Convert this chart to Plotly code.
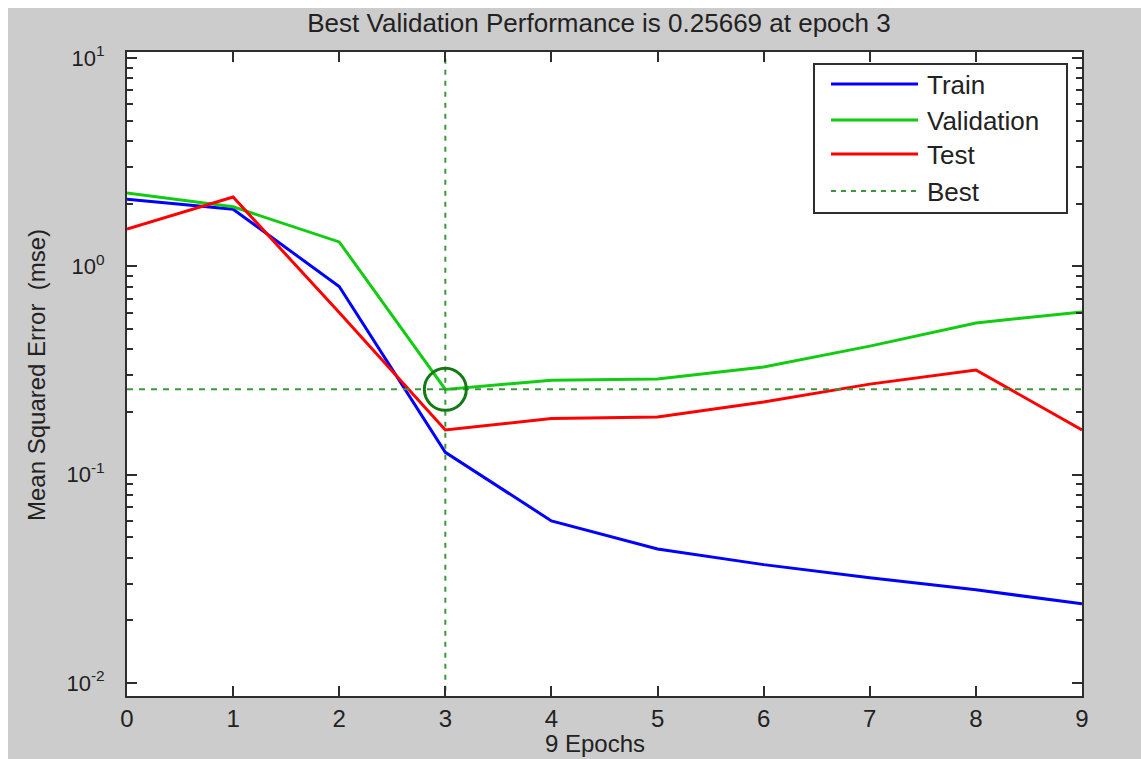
import plotly.graph_objects as go

# ---- data ----
epochs = [0, 1, 2, 3, 4, 5, 6, 7, 8, 9]
train = [2.10, 1.88, 0.80, 0.128, 0.060, 0.044, 0.037, 0.032, 0.028, 0.024]
validation = [2.25, 1.93, 1.31, 0.25669, 0.284, 0.288, 0.329, 0.414, 0.535, 0.604]
test = [1.51, 2.15, 0.60, 0.164, 0.186, 0.189, 0.223, 0.272, 0.318, 0.164]
best_epoch = 3
best_value = 0.25669
series_names = ["Train", "Validation", "Test", "Best"]
y_tickvals = [0.01, 0.1, 1, 10]
y_ticktext = ["10<sup>-2</sup>", "10<sup>-1</sup>", "10<sup>0</sup>", "10<sup>1</sup>"]
title_text = "Best Validation Performance is 0.25669 at epoch 3"
x_title = "9 Epochs"
y_title = "Mean Squared Error  (mse)"

# ---- style ----
C_TRAIN = "#0000ff"
C_VAL = "#11cc11"
C_TEST = "#ff0000"
C_BEST = "#3c963c"
C_CIRCLE = "#137a13"
C_AXIS = "#2e2e2e"
C_GRAY = "#cccccc"
TXT = "#222222"
FONT = "Liberation Sans, Arial, sans-serif"

OFF = 8  # page body margin (top/left)
W, H = 1141 - OFF, 759 - OFF
L, T = 127 - OFF, 52 - OFF
R = W - (1082 - OFF)
B = H - (696 - OFF)
pw, ph = W - L - R, H - T - B


def px_x(px):
    return (px - OFF - L) / pw


def px_y(py):
    return (H - B - (py - OFF)) / ph


fig = go.Figure()
fig.add_trace(go.Scatter(x=epochs, y=train, mode="lines", name=series_names[0],
                         line=dict(color=C_TRAIN, width=3), showlegend=False))
fig.add_trace(go.Scatter(x=epochs, y=validation, mode="lines", name=series_names[1],
                         line=dict(color=C_VAL, width=3), showlegend=False))
fig.add_trace(go.Scatter(x=epochs, y=test, mode="lines", name=series_names[2],
                         line=dict(color=C_TEST, width=3), showlegend=False))
# best lines
fig.add_trace(go.Scatter(x=[epochs[0], epochs[-1]], y=[best_value, best_value], mode="lines",
                         name=series_names[3], line=dict(color=C_BEST, width=2, dash="6px,6px"),
                         showlegend=False))
fig.add_trace(go.Scatter(x=[best_epoch, best_epoch], y=[y_tickvals[0] * 0.5, y_tickvals[-1] * 2],
                         mode="lines", name=series_names[3],
                         line=dict(color=C_BEST, width=2, dash="5px,6px"), showlegend=False))
fig.add_trace(go.Scatter(x=[best_epoch], y=[best_value], mode="markers", showlegend=False,
                         marker=dict(symbol="circle-open", size=42, color=C_CIRCLE,
                                     line=dict(width=3, color=C_CIRCLE))))

minor_vals = [m * 10 ** d for d in range(-2, 1) for m in range(2, 10)]

fig.update_xaxes(range=[0, 9], tickmode="array", tickvals=epochs,
                 ticks="inside", ticklen=10, tickwidth=2, tickcolor=C_AXIS,
                 showline=True, linewidth=2, linecolor=C_AXIS, mirror="allticks",
                 showgrid=False, zeroline=False,
                 tickfont=dict(family=FONT, size=24, color=TXT),
                 ticklabelstandoff=0)
fig.update_yaxes(type="log", range=[-2.0624, 1.0288], tickmode="array",
                 tickvals=y_tickvals, ticktext=y_ticktext,
                 ticks="inside", ticklen=10, tickwidth=2, tickcolor=C_AXIS,
                 minor=dict(tickmode="array", tickvals=minor_vals, ticks="inside",
                            ticklen=6, tickwidth=2, tickcolor=C_AXIS, showgrid=False),
                 showline=True, linewidth=2, linecolor=C_AXIS, mirror="allticks",
                 showgrid=False, zeroline=False,
                 tickfont=dict(family=FONT, size=22, color=TXT),
                 ticklabelstandoff=16)

shapes = []
# legend box
shapes.append(dict(type="rect", xref="paper", yref="paper", x0=px_x(814), x1=px_x(1067),
                   y0=px_y(213), y1=px_y(64), fillcolor="white",
                   line=dict(color=C_AXIS, width=2)))
leg_rows = [84, 120, 154, 191]
leg_styles = [(C_TRAIN, "solid", 3), (C_VAL, "solid", 3), (C_TEST, "solid", 3), (C_BEST, "5px,5px", 2)]
annotations = []
for name, yy, (col, dash, wd) in zip(series_names, leg_rows, leg_styles):
    shapes.append(dict(type="line", xref="paper", yref="paper", x0=px_x(831), x1=px_x(918),
                       y0=px_y(yy), y1=px_y(yy), line=dict(color=col, width=wd, dash=dash)))
    annotations.append(dict(text=name, xref="paper", yref="paper", x=px_x(925), y=px_y(yy + 1),
                            xanchor="left", yanchor="middle", showarrow=False,
                            font=dict(family=FONT, size=26, color=TXT)))

annotations.append(dict(text=x_title, xref="paper", yref="paper", x=px_x(595), y=px_y(743),
                        xanchor="center", yanchor="middle", showarrow=False,
                        font=dict(family=FONT, size=24, color=TXT)))
annotations.append(dict(text=y_title, xref="paper", yref="paper", x=px_x(36), y=px_y(375),
                        xanchor="center", yanchor="middle", showarrow=False, textangle=-90,
                        font=dict(family=FONT, size=24, color=TXT)))

fig.update_layout(
    width=W, height=H,
    margin=dict(l=L, r=R, t=T, b=B),
    paper_bgcolor=C_GRAY, plot_bgcolor="white",
    title=dict(text=title_text, x=(599 - OFF) / W, xanchor="center",
               y=1 - (23 - OFF) / H, yanchor="middle",
               font=dict(family=FONT, size=26, color=TXT)),
    shapes=shapes, annotations=annotations,
    showlegend=False,
)

fig.write_html(
    "out.html",
    post_script="document.body.style.margin='8px 0 0 8px';document.body.style.overflow='hidden';",
)
